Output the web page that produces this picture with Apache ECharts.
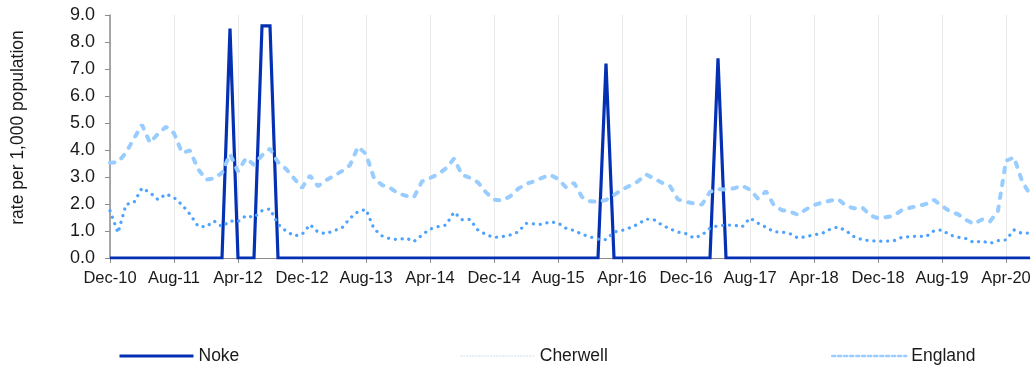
<!DOCTYPE html>
<html>
<head>
<meta charset="utf-8">
<script src="https://cdn.jsdelivr.net/npm/echarts@6/dist/echarts.min.js"></script>
<style>
html,body{margin:0;padding:0;background:#fff;}
#chart{width:1034px;height:370px;}
</style>
</head>
<body>
<div id="chart"></div>
<script>
// Months Dec-10 .. Jul-20
const monthNames = ['Jan','Feb','Mar','Apr','May','Jun','Jul','Aug','Sep','Oct','Nov','Dec'];
const categories = [];
(function(){
  let m = 11, y = 10;
  for (let k = 0; k < 116; k++) {
    categories.push(monthNames[m] + '-' + String(y).padStart(2,'0'));
    m++; if (m === 12) { m = 0; y++; }
  }
})();

const noke = [
  0,0,0,0,0,0,0,0,0,0, 0,0,0,0,0,8.5,0,0,0,8.6,
  8.6,0,0,0,0,0,0,0,0,0, 0,0,0,0,0,0,0,0,0,0,
  0,0,0,0,0,0,0,0,0,0, 0,0,0,0,0,0,0,0,0,0,
  0,0,7.2,0,0,0,0,0,0,0, 0,0,0,0,0,0,7.4,0,0,0,
  0,0,0,0,0,0,0,0,0,0, 0,0,0,0,0,0,0,0,0,0,
  0,0,0,0,0,0,0,0,0,0, 0,0,0,0,0,0
];

const cherwell = [
  1.75,0.93,1.98,2.06,2.59,2.42,2.16,2.37,2.24,1.97,
  1.62,1.18,1.15,1.37,1.16,1.37,1.35,1.57,1.50,1.75,
  1.82,1.25,1.00,0.82,0.87,1.24,0.96,0.90,1.01,1.12,
  1.47,1.72,1.80,1.08,0.82,0.71,0.68,0.74,0.61,0.85,
  1.07,1.16,1.22,1.70,1.42,1.43,1.03,0.87,0.76,0.79,
  0.85,0.96,1.28,1.26,1.24,1.34,1.30,1.10,1.02,0.88,
  0.78,0.70,0.68,0.96,1.02,1.12,1.25,1.44,1.42,1.22,
  1.08,0.96,0.90,0.74,0.85,1.10,1.20,1.22,1.22,1.15,
  1.48,1.29,1.14,0.97,0.96,0.90,0.74,0.79,0.86,0.91,
  1.06,1.15,1.01,0.79,0.68,0.64,0.63,0.62,0.64,0.77,
  0.79,0.81,0.79,1.01,1.04,0.85,0.77,0.72,0.57,0.63,
  0.54,0.64,0.67,1.04,0.91,0.93
];

const england = [
  3.53,3.55,3.90,4.43,4.93,4.27,4.60,4.86,4.62,3.90,
  3.98,3.30,2.90,2.95,3.15,3.85,3.20,3.70,3.45,3.80,
  4.05,3.55,3.30,2.95,2.60,3.05,2.66,2.88,3.04,3.22,
  3.44,4.12,3.85,2.96,2.70,2.60,2.40,2.30,2.25,2.84,
  2.96,3.10,3.32,3.68,3.08,2.97,2.80,2.43,2.16,2.13,
  2.28,2.56,2.74,2.84,2.97,3.08,2.93,2.62,2.78,2.26,
  2.10,2.08,2.15,2.33,2.53,2.68,2.84,3.10,2.94,2.79,
  2.66,2.17,2.08,2.02,1.98,2.45,2.55,2.53,2.58,2.68,
  2.53,2.20,2.47,1.95,1.77,1.72,1.60,1.80,1.96,2.05,
  2.12,2.19,1.93,1.84,1.88,1.59,1.47,1.51,1.57,1.78,
  1.86,1.93,2.00,2.15,1.93,1.72,1.62,1.41,1.26,1.43,
  1.35,1.75,3.60,3.73,2.85,2.35
];

const yTicks = [0,1,2,3,4,5,6,7,8,9];

const C_NOKE = '#0431b4';
const C_CHER = '#4da3ff';
const C_ENG = '#99ccff';
const FONT = '"Liberation Sans", Arial, sans-serif';

const chart = echarts.init(document.getElementById('chart'), null, {renderer:'canvas'});
const legendBase = {
  top: 342, itemWidth: 74, itemHeight: 14, itemGap: 0,
  textStyle: {fontFamily: FONT, fontSize: 17.5, color: '#1a1a1a'},
  selectedMode: false
};
chart.setOption({
  animation: false,
  backgroundColor: '#fff',
  grid: {left: 110, right: 4, top: 15, bottom: 112, containLabel: false},
  legend: [
    Object.assign({}, legendBase, {left: 113, data: [{name: 'Noke', itemStyle: {opacity: 0}, lineStyle: {color: C_NOKE, width: 3, type: 'solid'}}]}),
    Object.assign({}, legendBase, {left: 455, data: [{name: 'Cherwell', itemStyle: {opacity: 0}, lineStyle: {color: '#dfe9f6', width: 1.5, type: [1, 2]}}]}),
    Object.assign({}, legendBase, {left: 826, data: [{name: 'England', itemStyle: {opacity: 0}, lineStyle: {color: C_ENG, width: 2.5, type: [3, 3]}}]})
  ],
  xAxis: {
    type: 'category',
    data: categories,
    boundaryGap: false,
    axisLine: {show: true, lineStyle: {color: '#8c8c8c', width: 1}},
    axisTick: {show: true, interval: 7, length: 5, lineStyle: {color: '#8c8c8c'}},
    axisLabel: {interval: 7, fontFamily: FONT, fontSize: 16.5, color: '#1a1a1a', margin: 12},
    splitLine: {show: true, interval: 7, lineStyle: {color: '#ebebeb', width: 1}}
  },
  yAxis: {
    type: 'value',
    min: 0, max: 9, interval: 1,
    name: 'rate per 1,000 population',
    nameLocation: 'middle',
    nameGap: 83,
    nameTextStyle: {fontFamily: FONT, fontSize: 17.5, color: '#1a1a1a', padding: [0, 0, 0, 18]},
    axisLine: {show: true, lineStyle: {color: '#8c8c8c', width: 1.5}},
    axisTick: {show: true, length: 5, lineStyle: {color: '#8c8c8c'}},
    axisLabel: {fontFamily: FONT, fontSize: 18, color: '#1a1a1a', margin: 15,
      formatter: v => (yTicks.indexOf(v) >= 0 ? v.toFixed(1) : '')},
    splitLine: {show: false}
  },
  series: [
    {name: 'Noke', type: 'line', data: noke, symbol: 'none', z: 2,
      lineStyle: {color: C_NOKE, width: 3.2, join: 'miter'}, itemStyle: {color: C_NOKE}},
    {name: 'Cherwell', type: 'line', data: cherwell, symbol: 'none', z: 3,
      lineStyle: {color: C_CHER, width: 3.2, type: [0.1, 6.8], cap: 'round'}, itemStyle: {color: C_CHER}},
    {name: 'England', type: 'line', data: england, symbol: 'none', z: 4,
      lineStyle: {color: C_ENG, width: 4, type: [4.5, 8.5], cap: 'round'}, itemStyle: {color: C_ENG}}
  ]
});
</script>
</body>
</html>
